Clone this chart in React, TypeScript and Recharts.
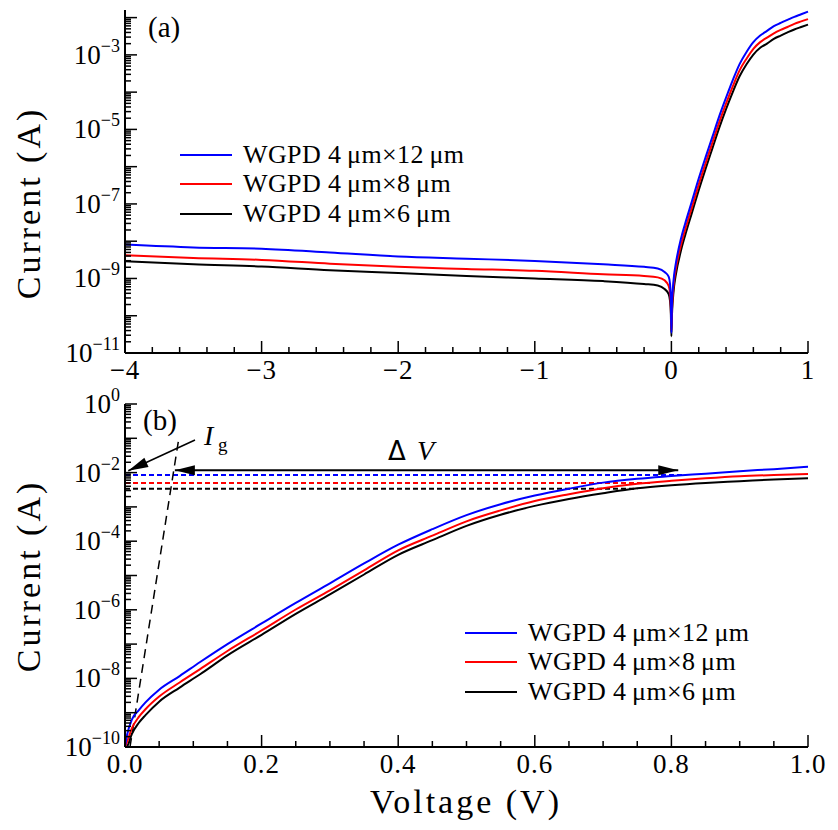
import React from 'react';
import { LineChart, Line, XAxis, YAxis, ReferenceLine, Legend } from 'recharts';

const FONT = '"Liberation Serif", "Times New Roman", serif';

// panel (a): full sweep, -4 V .. 1 V
const voltsA = [-4, -3.5, -3, -2.5, -2, -1.5, -1, -0.5, -0.2, -0.1, -0.05, -0.02, -0.01, -0.004, 0, 0.004, 0.01, 0.02, 0.03, 0.07, 0.1, 0.15, 0.2, 0.25, 0.3, 0.35, 0.4, 0.45, 0.5, 0.55, 0.6, 0.65, 0.7, 0.75, 0.8, 0.85, 0.9, 0.95, 1.0];
const w12A = [8.1e-9, 6.8e-9, 6.3e-9, 5.0e-9, 3.9e-9, 3.4e-9, 2.95e-9, 2.4e-9, 2.05e-9, 1.85e-9, 1.5e-9, 1.12e-9, 7.1e-10, 2.5e-10, 3.5e-11, 2.0e-10, 5.0e-10, 1.26e-9, 2.24e-9, 1.17e-8, 2.9e-8, 1.17e-7, 4.8e-7, 1.78e-6, 6.3e-6, 2.24e-5, 7.1e-5, 2.14e-4, 5.75e-4, 1.2e-3, 2.2e-3, 3.3e-3, 4.4e-3, 5.9e-3, 7.2e-3, 8.7e-3, 1.05e-2, 1.23e-2, 1.45e-2];
const w8A = [4.2e-9, 3.55e-9, 3.15e-9, 2.5e-9, 2.05e-9, 1.8e-9, 1.6e-9, 1.3e-9, 1.17e-9, 1.07e-9, 8.9e-10, 6.3e-10, 4.0e-10, 1.6e-10, 4.0e-11, 1.4e-10, 3.5e-10, 8.9e-10, 1.6e-9, 7.9e-9, 2.0e-8, 8.1e-8, 3.3e-7, 1.23e-6, 4.4e-6, 1.55e-5, 4.9e-5, 1.45e-4, 3.9e-4, 7.9e-4, 1.45e-3, 2.2e-3, 2.9e-3, 3.8e-3, 4.7e-3, 5.6e-3, 6.8e-3, 7.9e-3, 9.1e-3];
const w6A = [2.9e-9, 2.4e-9, 2.1e-9, 1.66e-9, 1.4e-9, 1.17e-9, 1.0e-9, 8.5e-10, 7.1e-10, 6.5e-10, 5.2e-10, 3.8e-10, 2.5e-10, 1.12e-10, 2.8e-11, 1.0e-10, 2.5e-10, 6.3e-10, 1.12e-9, 5.6e-9, 1.41e-8, 5.75e-8, 2.34e-7, 8.7e-7, 3.1e-6, 1.1e-5, 3.5e-5, 1.02e-4, 2.7e-4, 5.6e-4, 1.02e-3, 1.55e-3, 2.0e-3, 2.7e-3, 3.3e-3, 4.0e-3, 4.8e-3, 5.6e-3, 6.5e-3];

// panel (b): forward bias 0 .. 1 V
const voltsB = [0, 0.003, 0.01, 0.02, 0.03, 0.05, 0.08, 0.11, 0.15, 0.2, 0.25, 0.3, 0.35, 0.4, 0.45, 0.5, 0.55, 0.6, 0.65, 0.7, 0.75, 0.8, 0.85, 0.9, 0.95, 1.0];
const w12B = [1.05e-10, 2.24e-10, 6.3e-10, 1.17e-9, 2.0e-9, 4.7e-9, 1.17e-8, 3.0e-8, 1.0e-7, 4.0e-7, 1.58e-6, 5.9e-6, 2.24e-5, 7.9e-5, 2.24e-4, 5.75e-4, 1.2e-3, 2.14e-3, 3.4e-3, 5.1e-3, 6.6e-3, 7.9e-3, 9.3e-3, 1.1e-2, 1.26e-2, 1.48e-2];
const w8B = [1.0e-10, 1.4e-10, 3.5e-10, 7.4e-10, 1.26e-9, 2.95e-9, 7.6e-9, 1.86e-8, 6.3e-8, 2.5e-7, 1.02e-6, 3.7e-6, 1.41e-5, 5.4e-5, 1.45e-4, 3.8e-4, 7.9e-4, 1.48e-3, 2.34e-3, 3.5e-3, 4.7e-3, 5.75e-3, 6.8e-3, 7.8e-3, 8.5e-3, 9.1e-3];
const w6B = [1.0e-10, 1.05e-10, 2.4e-10, 5.0e-10, 8.5e-10, 2.1e-9, 5.4e-9, 1.32e-8, 4.7e-8, 1.86e-7, 7.6e-7, 2.8e-6, 1.07e-5, 4.0e-5, 1.07e-4, 2.8e-4, 5.9e-4, 1.07e-3, 1.7e-3, 2.5e-3, 3.5e-3, 4.3e-3, 5.0e-3, 5.6e-3, 6.3e-3, 6.8e-3];

// saturation levels (dashed) and where they stop
const satLevels = [8.5e-3, 5.0e-3, 3.4e-3];
const satEnds = [0.82, 0.77, 0.75];
// ΔV arrow
const dvLevel = 1.18e-2;
const dvRange = [0.073, 0.81];
// extrapolated I_g line and its pointer
const igLine = [[0.0073, 1e-10], [0.078, 0.079]];
const igPointer = [[0.1025, 8.9e-2], [0.0048, 1.13e-2]];

const names = ['WGPD 4\u2009μm×12\u2009μm', 'WGPD 4\u2009μm×8\u2009μm', 'WGPD 4\u2009μm×6\u2009μm'];
const keys = ['w12', 'w8', 'w6'];
const colors = ['#0000ff', '#ff0000', '#000000'];

const decadesA = [-11, -10, -9, -8, -7, -6, -5, -4, -3, -2];
const decadesB = [-10, -9, -8, -7, -6, -5, -4, -3, -2, -1, 0];
const xMajorA = [-4, -3, -2, -1, 0, 1];
const xMajorB = [0, 0.2, 0.4, 0.6, 0.8, 1.0];

const rowsA = voltsA.map((v, i) => ({ v, w12: w12A[i], w8: w8A[i], w6: w6A[i] }));
const rowsB = voltsB.map((v, i) => ({ v, w12: w12B[i], w8: w8B[i], w6: w6B[i] }));

const logTicks = (decs: number[], max: number) => {
  const out: number[] = [];
  decs.forEach((e) => {
    for (let m = 1; m <= 9; m++) {
      const t = m * Math.pow(10, e);
      if (t <= max * 1.0001) out.push(t);
    }
  });
  return out;
};
const linTicks = (majors: number[], n: number) => {
  const out: number[] = [];
  for (let i = 0; i < majors.length - 1; i++) {
    const step = (majors[i + 1] - majors[i]) / n;
    for (let k = 0; k < n; k++) out.push(+(majors[i] + k * step).toFixed(6));
  }
  out.push(majors[majors.length - 1]);
  return out;
};

const isDecade = (v: number) => {
  const l = Math.log10(v);
  return Math.abs(l - Math.round(l)) < 1e-6;
};

const yTickLeft = (parity: number) => (p: any) => {
  const { x, y, payload } = p;
  const v = payload.value;
  const major = isDecade(v);
  const e = Math.round(Math.log10(v));
  const show = major && Math.abs(e % 2) === parity;
  return (
    <g>
      <line x1={x} y1={y} x2={x + (major ? 12 : 6)} y2={y} stroke="#000" strokeWidth={1.5} />
      {show && (
        <text x={x - 5} y={y + 9} textAnchor="end" fontSize={27} fill="#000" fontFamily={FONT}>
          10<tspan dy={-12} fontSize={18}>{e < 0 ? '\u2212' + -e : String(e)}</tspan>
        </text>
      )}
    </g>
  );
};

const yTickRight = (p: any) => {
  const { x, y, payload } = p;
  const major = isDecade(payload.value);
  return <line x1={x} y1={y} x2={x - (major ? 12 : 6)} y2={y} stroke="#000" strokeWidth={1.5} />;
};

const xTick = (majors: number[], fmt: (v: number) => string) => (p: any) => {
  const { x, y, payload } = p;
  const v = payload.value;
  const major = majors.some((m) => Math.abs(m - v) < 1e-6);
  return (
    <g>
      <line x1={x} y1={y} x2={x} y2={y - (major ? 12 : 6)} stroke="#000" strokeWidth={1.5} />
      {major && (
        <text x={x} y={y + 26} textAnchor="middle" fontSize={27} fill="#000" fontFamily={FONT} letterSpacing={1}>
          {fmt(v)}
        </text>
      )}
    </g>
  );
};

const head = (tx: number, ty: number, fx: number, fy: number, len = 20, half = 5) => {
  const a = Math.atan2(ty - fy, tx - fx);
  const bx = tx - len * Math.cos(a);
  const by = ty - len * Math.sin(a);
  const px = -Math.sin(a) * half;
  const py = Math.cos(a) * half;
  return `${tx},${ty} ${bx + px},${by + py} ${bx - px},${by - py}`;
};

const arrow = (both: boolean, width: number) => (p: any) => {
  const { x1, y1, x2, y2 } = p;
  return (
    <g>
      <line x1={x1} y1={y1} x2={x2} y2={y2} stroke="#000" strokeWidth={width} />
      <polygon points={head(x2, y2, x1, y1)} fill="#000" />
      {both && <polygon points={head(x1, y1, x2, y2)} fill="#000" />}
    </g>
  );
};

const legendContent = () => (
  <div style={{ fontFamily: FONT, fontSize: 26, color: '#000', letterSpacing: 0.4 }}>
    {names.map((n, i) => (
      <div key={n} style={{ display: 'flex', alignItems: 'center', height: 29.5, whiteSpace: 'nowrap' }}>
        <svg width={52} height={4} style={{ marginRight: 11 }}>
          <line x1={0} y1={2} x2={52} y2={2} stroke={colors[i]} strokeWidth={2} />
        </svg>
        <span>{n}</span>
      </div>
    ))}
  </div>
);

const frame = { stroke: '#000', strokeWidth: 2 };

const lines = [2, 1, 0].map((i) => (
  <Line
    key={keys[i]}
    yAxisId="l"
    type="monotone"
    dataKey={keys[i]}
    name={names[i]}
    stroke={colors[i]}
    strokeWidth={2}
    dot={false}
    isAnimationActive={false}
  />
));

export default function App() {
  const ticksYA = logTicks(decadesA, 1.6e-2);
  const ticksYB = logTicks(decadesB, 1);
  return (
    <div style={{ position: 'absolute', left: 0, top: 0, width: 838, height: 830, background: '#fff', fontFamily: FONT }}>
      <div style={{ position: 'absolute', left: 0, top: 0 }}>
        <LineChart width={838} height={390} data={rowsA} margin={{ top: 10, right: 30, bottom: 0, left: 0 }}>
          <XAxis dataKey="v" type="number" domain={[-4, 1]} ticks={linTicks(xMajorA, 5)} interval={0}
            tickSize={0} tickMargin={0} tickLine={false} axisLine={frame} height={37}
            tick={xTick(xMajorA, (v) => (v < 0 ? '\u2212' + -v : String(v)))} />
          <XAxis xAxisId="top" orientation="top" type="number" domain={[-4, 1]} height={0} tick={false} tickLine={false} axisLine={frame} />
          <YAxis yAxisId="l" type="number" scale="log" domain={[1e-11, 1.6e-2]} allowDataOverflow ticks={ticksYA} interval={0}
            width={125} tickSize={0} tickMargin={0} tickLine={false} axisLine={frame} tick={yTickLeft(1)} />
          <YAxis yAxisId="r" orientation="right" type="number" scale="log" domain={[1e-11, 1.6e-2]} allowDataOverflow ticks={ticksYA} interval={0}
            width={0} tickSize={0} tickMargin={0} tickLine={false} axisLine={frame} tick={yTickRight} />
          {lines}
          <Legend layout="vertical" align="center" verticalAlign="middle" content={legendContent}
            wrapperStyle={{ left: 180, top: 140, width: 'auto' }} />
        </LineChart>
      </div>
      <div style={{ position: 'absolute', left: 0, top: 360 }}>
        <LineChart width={838} height={470} data={rowsB} margin={{ top: 44, right: 30, bottom: 0, left: 0 }}>
          <XAxis dataKey="v" type="number" domain={[0, 1]} ticks={linTicks(xMajorB, 4)} interval={0}
            tickSize={0} tickMargin={0} tickLine={false} axisLine={frame} height={83}
            tick={xTick(xMajorB, (v) => v.toFixed(1))} />
          <XAxis xAxisId="top" orientation="top" type="number" domain={[0, 1]} height={0} tick={false} tickLine={false} axisLine={frame} />
          <YAxis yAxisId="l" type="number" scale="log" domain={[1e-10, 1]} allowDataOverflow ticks={ticksYB} interval={0}
            width={125} tickSize={0} tickMargin={0} tickLine={false} axisLine={frame} tick={yTickLeft(0)} />
          <YAxis yAxisId="r" orientation="right" type="number" scale="log" domain={[1e-10, 1]} allowDataOverflow ticks={ticksYB} interval={0}
            width={0} tickSize={0} tickMargin={0} tickLine={false} axisLine={frame} tick={yTickRight} />
          {satLevels.map((lv, i) => (
            <ReferenceLine key={i} yAxisId="l" segment={[{ x: 0, y: lv }, { x: satEnds[i], y: lv }]}
              stroke={colors[i]} strokeWidth={2} strokeDasharray="5 3" />
          ))}
          <ReferenceLine yAxisId="l" segment={[{ x: igLine[0][0], y: igLine[0][1] }, { x: igLine[1][0], y: igLine[1][1] }]}
            stroke="#000" strokeWidth={1.5} strokeDasharray="9 6" />
          {lines}
          <ReferenceLine yAxisId="l" segment={[{ x: dvRange[0], y: dvLevel }, { x: dvRange[1], y: dvLevel }]} shape={arrow(true, 2)} />
          <ReferenceLine yAxisId="l" segment={[{ x: igPointer[0][0], y: igPointer[0][1] }, { x: igPointer[1][0], y: igPointer[1][1] }]} shape={arrow(false, 1.5)} />
          <Legend layout="vertical" align="center" verticalAlign="middle" content={legendContent}
            wrapperStyle={{ left: 465, top: 258, width: 'auto' }} />
        </LineChart>
      </div>
      <svg width={838} height={830} style={{ position: 'absolute', left: 0, top: 0, pointerEvents: 'none' }} fontFamily={FONT} fill="#000">
        <text x={148} y={37} fontSize={29}>(a)</text>
        <text x={143} y={430} fontSize={29}>(b)</text>
        <text x={204} y={445} fontSize={28} fontStyle="italic">I</text>
        <text x={218} y={451} fontSize={19}>g</text>
        <text x={388} y={460} fontSize={26} fontFamily='"DejaVu Sans", sans-serif'>Δ</text>
        <text x={417} y={460} fontSize={28} fontStyle="italic">V</text>
        <text transform="translate(40,203) rotate(-90)" textAnchor="middle" fontSize={34} letterSpacing={3}>Current (A)</text>
        <text transform="translate(40,576) rotate(-90)" textAnchor="middle" fontSize={34} letterSpacing={3}>Current (A)</text>
        <text x={466} y={813} textAnchor="middle" fontSize={34} letterSpacing={3}>Voltage (V)</text>
      </svg>
    </div>
  );
}
